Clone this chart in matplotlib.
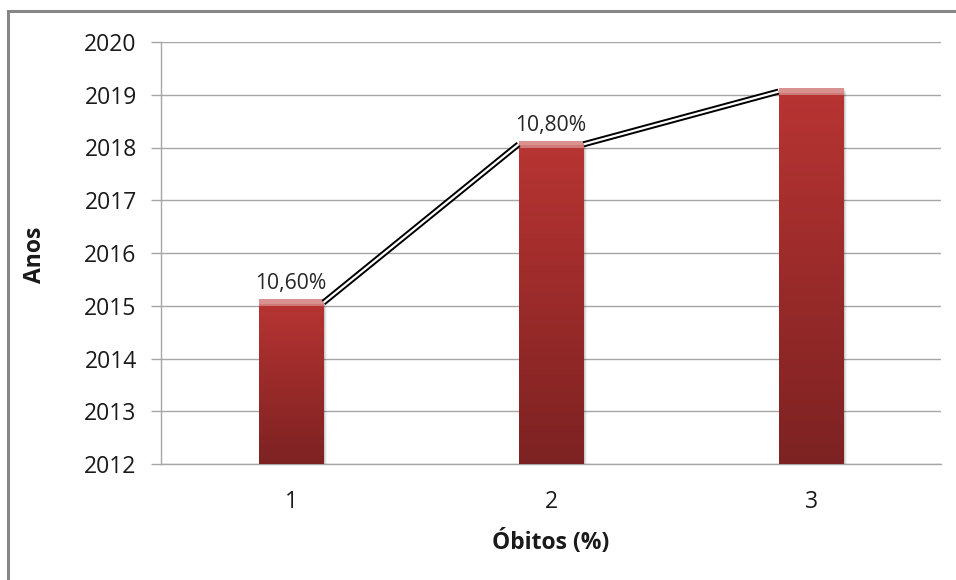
import numpy as np
import matplotlib
matplotlib.use("Agg")
import matplotlib.pyplot as plt
from matplotlib.patches import Rectangle
from matplotlib.colors import LinearSegmentedColormap

# Data
categories = ["1", "2", "3"]
years = [2015, 2018, 2019]
labels = ["10,60%", "10,80%", ""]
y_ticks = [2012, 2013, 2014, 2015, 2016, 2017, 2018, 2019, 2020]

plt.rcParams["font.family"] = ["Open Sans", "DejaVu Sans"]

fig = plt.figure(figsize=(9.56, 5.8), dpi=100)
fig.patch.set_facecolor("white")

# outer chart frame (runs off the right and bottom edges)
frame = Rectangle((8 / 956, -0.05), 1.1, (580 - 11) / 580 + 0.05,
                  transform=fig.transFigure, fill=False,
                  edgecolor="#868686", linewidth=2.2, zorder=0)
fig.patches.append(frame)

ax = fig.add_axes([161 / 956, 116 / 580, 780 / 956, 422 / 580])
ax.set_xlim(0.5, 3.5)
ax.set_ylim(2012, 2020)

bar_w = 0.25
cap = 0.12
base = 2012
xs = np.arange(1, len(categories) + 1)

cmap = LinearSegmentedColormap.from_list("barfill", ["#7d2222", "#9a2b2a", "#b83533"])
grad = np.linspace(0, 1, 256).reshape(-1, 1)

for x, v in zip(xs, years):
    left = x - bar_w / 2
    top = v + cap
    # soft drop shadow on the right / bottom
    for k, a in enumerate([0.10, 0.07, 0.04]):
        off = 0.004 * (k + 1)
        ax.add_patch(Rectangle((left + off, base - 0.02 * (k + 1)), bar_w, top - base,
                               facecolor="black", alpha=a, edgecolor="none", zorder=2))
    # gradient body
    img = ax.imshow(grad, cmap=cmap, aspect="auto", origin="lower",
                    extent=(left, left + bar_w, base, top), zorder=3,
                    interpolation="bicubic")
    clip = Rectangle((left, base), bar_w, top - base, transform=ax.transData)
    img.set_clip_path(clip)
    # lighter bevel strip on top
    ax.add_patch(Rectangle((left, v), bar_w, cap, facecolor="#cf7a78",
                           edgecolor="none", zorder=4))
    ax.add_patch(Rectangle((left, v + cap * 0.35), bar_w, cap * 0.65,
                           facecolor="#d99290", edgecolor="none", zorder=4))

# series lines joining the bar tops (double line: black with white core)
for i in range(len(xs) - 1):
    x0 = xs[i] + bar_w / 2
    x1 = xs[i + 1] - bar_w / 2
    y0 = years[i] + cap * 0.5
    y1 = years[i + 1] + cap * 0.5
    ax.plot([x0, x1], [y0, y1], color="black", lw=4.4, solid_capstyle="butt", zorder=5)
    ax.plot([x0, x1], [y0, y1], color="white", lw=1.6, solid_capstyle="butt", zorder=6)

# data labels
for x, v, t in zip(xs, years, labels):
    if t:
        ax.annotate(t, (x, v + cap), xytext=(0, 7.5), textcoords="offset points",
                    ha="center", va="baseline", fontsize=15.2, color="#262626", zorder=7)

# axes styling
ax.set_yticks(y_ticks)
ax.set_xticks(xs)
ax.set_xticklabels(categories)
ax.yaxis.grid(True, color="#a6a6a6", linewidth=1.0, zorder=1)
ax.set_axisbelow(True)
for s in ["top", "right"]:
    ax.spines[s].set_visible(False)
ax.spines["left"].set_color("#a6a6a6")
ax.spines["bottom"].set_color("#a6a6a6")
ax.spines["left"].set_linewidth(1.0)
ax.spines["bottom"].set_linewidth(1.0)
ax.tick_params(axis="y", length=7, width=1.0, color="#a6a6a6", pad=10.5,
               labelsize=16.5, labelcolor="#1a1a1a")
ax.tick_params(axis="x", length=0, pad=19, labelsize=16.5, labelcolor="#1a1a1a")

ax.set_ylabel("Anos", fontsize=16.5, fontweight="bold", color="#1a1a1a", va="center")
ax.yaxis.set_label_coords((35 - 161) / 780, 0.495)
ax.set_xlabel("Óbitos (%)", fontsize=16.5, fontweight="bold", color="#1a1a1a", va="center")
ax.xaxis.set_label_coords(0.499, (464 - 543) / 422)

fig.savefig("out.png", dpi=100, facecolor="white")
